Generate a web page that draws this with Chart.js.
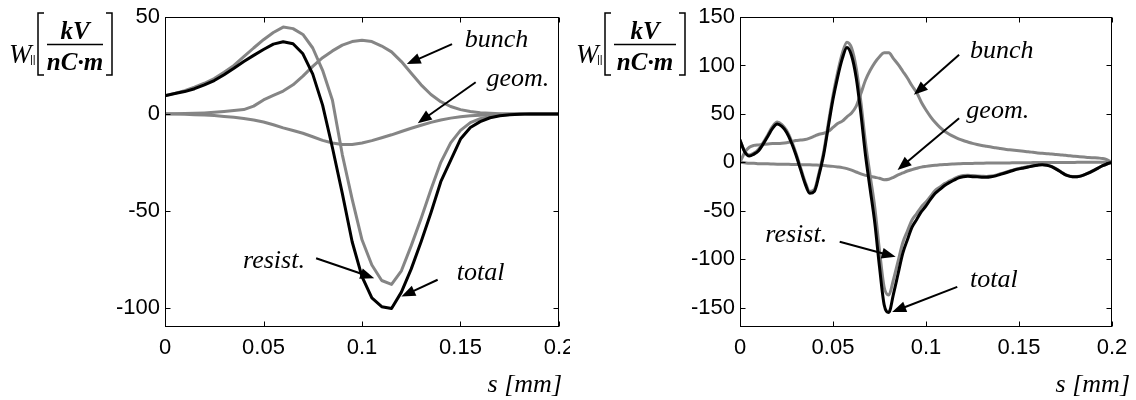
<!DOCTYPE html>
<html>
<head>
<meta charset="utf-8">
<script src="https://cdn.jsdelivr.net/npm/chart.js@4"></script>
<style>
  html, body { margin: 0; padding: 0; background: #fff; }
  #wrap { position: relative; width: 1136px; height: 400px; }
  .panel { position: absolute; top: 0; height: 400px; }
</style>
</head>
<body>
<div id="wrap">
  <div class="panel" style="left:0;width:570px"><canvas id="left"></canvas></div>
  <div class="panel" style="left:570px;width:566px"><canvas id="right"></canvas></div>
</div>
<script>
// ---- data ----
const xTicks = [0, 0.05, 0.1, 0.15, 0.2];
const xTickLabels = ['0', '0.05', '0.1', '0.15', '0.2'];

// left panel
const leftS = [0, 0.005, 0.01, 0.015, 0.02, 0.025, 0.03, 0.035, 0.04, 0.045, 0.05, 0.055, 0.06, 0.065, 0.07, 0.075, 0.08, 0.085, 0.09, 0.095,
  0.1, 0.105, 0.11, 0.115, 0.12, 0.125, 0.13, 0.135, 0.14, 0.145, 0.15, 0.155, 0.16, 0.165, 0.17, 0.175, 0.18, 0.185, 0.19, 0.195, 0.2];
const leftTotal = [9.4, 10.5, 11.5, 13, 15, 17.2, 20.2, 23.5, 27, 30.2, 33.2, 36, 37.2, 36.2, 31, 20.5, 4.5, -17.5, -41, -66,
  -84, -95, -99.5, -100.5, -92, -80, -66, -51, -35, -24, -13, -7, -4, -2, -1, -0.5, -0.2, 0, 0, 0, 0];
const leftResist = [9.4, 10.6, 12, 13.8, 15.8, 18.2, 21.5, 25, 29.5, 34, 38.3, 42, 44.8, 44, 41, 34, 22.5, 7, -21, -44,
  -65, -78, -86, -88, -81, -68, -54, -39, -25, -15, -8.5, -4.5, -2.5, -1.4, -0.7, -0.3, 0, 0, 0, 0, 0];
const leftBunch = [0, 0.1, 0.2, 0.3, 0.5, 0.8, 1.2, 1.7, 2.2, 4, 7.2, 9.5, 11.8, 15, 19.5, 24.5, 29, 32.5, 35.5, 37.3,
  38, 37.3, 35, 32, 27, 21, 15, 10, 6.3, 3.8, 2.2, 1.2, 0.6, 0.3, 0.1, 0, 0, 0, 0, 0, 0];
const leftGeom = [0, -0.1, -0.2, -0.4, -0.6, -0.9, -1.3, -1.8, -2.4, -3.2, -4.2, -5.6, -7.2, -8.6, -10, -11.8, -13.7, -15, -15.8, -15.8,
  -15, -13.8, -12.3, -10.8, -9.1, -7.4, -5.9, -4.4, -3.2, -2.2, -1.5, -1, -0.7, -0.4, -0.2, -0.1, 0, 0, 0, 0, 0];
const leftYTicks = [-100, -50, 0, 50];

// right panel
const rightS = [0, 0.0025, 0.005, 0.0075, 0.01, 0.0125, 0.015, 0.0175, 0.02, 0.0225, 0.025, 0.0275, 0.03, 0.0325, 0.035, 0.0375,
  0.04, 0.0425, 0.045, 0.0475, 0.05, 0.0525, 0.055, 0.0575, 0.06, 0.0625, 0.065, 0.0675, 0.07, 0.0725, 0.075, 0.0775,
  0.08, 0.0825, 0.085, 0.0875, 0.09, 0.0925, 0.095, 0.0975, 0.1, 0.1025, 0.105, 0.1075, 0.11, 0.1125, 0.115, 0.1175,
  0.12, 0.1225, 0.125, 0.1275, 0.13, 0.1325, 0.135, 0.1375, 0.14, 0.1425, 0.145, 0.1475, 0.15, 0.1525, 0.155, 0.1575,
  0.16, 0.1625, 0.165, 0.1675, 0.17, 0.1725, 0.175, 0.1775, 0.18, 0.1825, 0.185, 0.1875, 0.19, 0.1925, 0.195, 0.1975, 0.2];
const rightTotal = [23, 11, 6.5, 8.5, 12, 19, 27, 35, 39.5, 37, 31, 21, 8, -7, -22, -32,
  -30, -13, 8, 37, 65, 88, 107, 118.5, 110, 87, 50, 7, -28, -63, -108, -147,
  -155, -136, -115, -94, -80, -67, -59, -51, -45, -38, -32, -28, -24, -21, -18.5, -16,
  -14.8, -14.5, -14.8, -15, -15.3, -15.5, -15, -14, -12.5, -11, -9.5, -8, -6.8, -5.8, -4.8, -3.8,
  -3, -2.5, -3, -4.5, -7, -10, -13, -14.5, -15, -14.5, -13, -11, -8.5, -6, -3.5, -1.5, 0];
const rightResist = [23, 11.5, 7.5, 9.5, 13.5, 20.5, 28.5, 37, 41.5, 39, 33, 23, 10, -5, -20, -30,
  -28, -10.5, 11, 40.5, 69, 93, 112.5, 124, 118, 97, 62, 20, -14, -47, -91, -129,
  -137, -121, -102, -83, -71, -59.5, -53, -46, -41, -35, -29, -25.5, -22, -19.5, -17, -14.8,
  -13.5, -13.3, -13.7, -14, -14.3, -14.6, -14.2, -13.3, -11.8, -10.4, -9, -7.5, -6.3, -5.3, -4.4, -3.4,
  -2.7, -2.2, -2.8, -4.3, -6.8, -9.8, -12.8, -14.4, -14.9, -14.4, -12.9, -10.9, -8.5, -6, -3.5, -1.5, 0];
const rightBunch = [0, 10, 15.5, 17.5, 18, 18.5, 19, 19.3, 19.5, 19.8, 20.3, 21.2, 22.5, 23, 23.5, 25,
  27, 29, 30, 32, 36, 40, 42.5, 47, 51, 58, 71, 85, 95, 103, 109, 113,
  113, 107, 101, 94, 87, 79, 72, 62, 54, 47, 41, 36, 32, 29, 26.5, 24.3,
  22.5, 21, 19.5, 18.3, 17.3, 16.5, 15.7, 15, 14.2, 13.4, 12.9, 12.4, 11.9, 11.4, 10.9, 10.3,
  9.7, 9.3, 8.9, 8.5, 8, 7.6, 7.2, 6.7, 6.2, 5.8, 5.4, 5, 4.7, 4.4, 4, 2.5, 0];
const rightGeom = [0, -0.5, -1, -1, -1.5, -1.5, -1.5, -1.8, -2, -2, -2, -2.2, -2.2, -2.4, -2.5, -2.6,
  -2.8, -3, -3.2, -3.8, -4.2, -4.8, -5.5, -6.5, -8, -10, -12, -13.5, -14.5, -15.5, -16.5, -18,
  -17.5, -15.5, -13, -11, -9, -7.5, -6.2, -5, -4.2, -3.5, -3, -2.6, -2.2, -1.9, -1.7, -1.5,
  -1.3, -1.2, -1.1, -1, -0.9, -0.8, -0.8, -0.7, -0.7, -0.6, -0.6, -0.5, -0.5, -0.4, -0.4, -0.3,
  -0.3, -0.3, -0.2, -0.2, -0.2, -0.1, -0.1, -0.1, -0.1, 0, 0, 0, 0, 0, 0, 0, 0];
const rightYTicks = [-150, -100, -50, 0, 50, 100, 150];

// labels with arrows, in data coordinates: text spot, arrow tail, arrow head
const leftNotes = [
  { text: 'bunch', at: [0.1522, 34.3], from: [0.1457, 36], to: [0.1227, 25.7] },
  { text: 'geom.', at: [0.1632, 14.6], from: [0.1577, 16.3], to: [0.1283, -4.8] },
  { text: 'resist.', at: [0.0396, -79.6], from: [0.0767, -74.5], to: [0.1062, -84.8] },
  { text: 'total', at: [0.1481, -85.6], from: [0.1384, -85.6], to: [0.12, -94.3] }
];
const rightNotes = [
  { text: 'bunch', at: [0.1237, 107.6], from: [0.1178, 111], to: [0.0935, 69.7] },
  { text: 'geom.', at: [0.1217, 45.5], from: [0.1178, 45.5], to: [0.0847, -7.9] },
  { text: 'resist.', at: [0.0136, -82], from: [0.0536, -82], to: [0.0837, -97.6] },
  { text: 'total', at: [0.1237, -128.6], from: [0.1168, -128.6], to: [0.0818, -154.5] }
];

const GRAY = '#858585';
const SANS = "'Liberation Sans', Arial, sans-serif";
const SERIF = "'Liberation Serif', 'Times New Roman', serif";

function pts(xs, ys) {
  return xs.map((x, i) => ({ x: x, y: ys[i] }));
}

function arrow(ctx, x1, y1, x2, y2) {
  const ang = Math.atan2(y2 - y1, x2 - x1);
  const len = 14, half = 5.5;
  ctx.beginPath();
  ctx.moveTo(x1, y1);
  ctx.lineTo(x2 - Math.cos(ang) * len * 0.8, y2 - Math.sin(ang) * len * 0.8);
  ctx.stroke();
  ctx.beginPath();
  ctx.moveTo(x2, y2);
  ctx.lineTo(x2 - Math.cos(ang) * len - Math.sin(ang) * half, y2 - Math.sin(ang) * len + Math.cos(ang) * half);
  ctx.lineTo(x2 - Math.cos(ang) * len + Math.sin(ang) * half, y2 - Math.sin(ang) * len - Math.cos(ang) * half);
  ctx.closePath();
  ctx.fill();
}

// box, inward ticks, labels and axis titles
const decor = {
  id: 'decor',
  afterDraw(chart, args, opts) {
    const ctx = chart.ctx, a = chart.chartArea;
    const xs = chart.scales.x, ys = chart.scales.y;
    const L = Math.round(a.left) + 0.5, R = Math.round(a.right) - 0.5;
    const T = Math.round(a.top) + 0.5, B = Math.round(a.bottom) - 0.5;
    ctx.save();
    ctx.strokeStyle = '#000';
    ctx.fillStyle = '#000';
    ctx.lineWidth = 1;
    ctx.strokeRect(L, T, R - L, B - T);
    const tl = 5;
    ctx.beginPath();
    xs.ticks.forEach(t => {
      const px = Math.round(xs.getPixelForValue(t.value)) + 0.5;
      ctx.moveTo(px, B); ctx.lineTo(px, B - tl);
      ctx.moveTo(px, T); ctx.lineTo(px, T + tl);
    });
    ys.ticks.forEach(t => {
      const py = Math.round(ys.getPixelForValue(t.value)) + 0.5;
      ctx.moveTo(L, py); ctx.lineTo(L + tl, py);
      ctx.moveTo(R, py); ctx.lineTo(R - tl, py);
    });
    ctx.stroke();

    // curve labels
    ctx.font = 'italic 26px ' + SERIF;
    ctx.textAlign = 'left';
    ctx.textBaseline = 'alphabetic';
    ctx.lineWidth = 2;
    opts.notes.forEach(n => {
      ctx.fillText(n.text, xs.getPixelForValue(n.at[0]), ys.getPixelForValue(n.at[1]));
      arrow(ctx, xs.getPixelForValue(n.from[0]), ys.getPixelForValue(n.from[1]),
        xs.getPixelForValue(n.to[0]), ys.getPixelForValue(n.to[1]));
    });

    // x axis title
    ctx.font = 'italic 26px ' + SERIF;
    ctx.textAlign = 'right';
    ctx.fillText('s [mm]', opts.sRight, 392);

    // y axis title: W|| [ kV / nC·m ]
    const ox = opts.titleX, w = opts.titleW;
    const mid = ox + 44 + w / 2;
    ctx.textAlign = 'left';
    ctx.font = 'italic 27px ' + SERIF;
    ctx.fillText('W', ox + 9, 63);
    ctx.font = '11px ' + SANS;
    ctx.fillText('||', ox + 30, 63);
    ctx.textAlign = 'center';
    ctx.font = 'bold italic 25px ' + SERIF;
    ctx.fillText('kV', mid, 39);
    ctx.fillText('nC\u00b7m', mid, 70);
    ctx.lineWidth = 1.5;
    ctx.beginPath();
    ctx.moveTo(ox + 47, 44.5); ctx.lineTo(ox + 41 + w, 44.5);
    // brackets
    ctx.moveTo(ox + 44, 13); ctx.lineTo(ox + 38, 13); ctx.lineTo(ox + 38, 75); ctx.lineTo(ox + 44, 75);
    ctx.moveTo(ox + 44 + w, 13); ctx.lineTo(ox + 50 + w, 13); ctx.lineTo(ox + 50 + w, 75); ctx.lineTo(ox + 44 + w, 75);
    ctx.stroke();
    ctx.restore();
  }
};

function makeChart(id, p) {
  const ctx = document.getElementById(id).getContext('2d');
  return new Chart(ctx, {
    type: 'line',
    data: {
      datasets: [
        { label: 'total', data: pts(p.s, p.total), borderColor: '#000', borderWidth: 3 },
        { label: 'resist.', data: pts(p.s, p.resist), borderColor: GRAY, borderWidth: 3 },
        { label: 'bunch', data: pts(p.s, p.bunch), borderColor: GRAY, borderWidth: 3 },
        { label: 'geom.', data: pts(p.s, p.geom), borderColor: GRAY, borderWidth: 3 }
      ]
    },
    options: {
      responsive: true,
      maintainAspectRatio: false,
      animation: false,
      elements: {
        point: { radius: 0 },
        line: { tension: 0, cubicInterpolationMode: p.mode, borderJoinStyle: 'round', borderCapStyle: 'round' }
      },
      layout: { padding: { top: 17, right: p.padRight, left: 0, bottom: 0 } },
      scales: {
        x: {
          type: 'linear',
          min: 0,
          max: 0.2,
          grid: { display: false, drawTicks: false },
          border: { display: false },
          afterBuildTicks: s => { s.ticks = xTicks.map(v => ({ value: v })); },
          ticks: {
            padding: 8,
            color: '#000',
            font: { family: SANS, size: 22 },
            maxRotation: 0,
            callback: (v) => xTickLabels[xTicks.indexOf(v)]
          },
          afterFit: s => { s.height = 73; s.paddingLeft = 0; s.paddingRight = 0; }
        },
        y: {
          min: p.yMin,
          max: p.yMax,
          grid: { display: false, drawTicks: false },
          border: { display: false },
          afterBuildTicks: s => { s.ticks = p.yTicks.map(v => ({ value: v })); },
          ticks: {
            padding: 5,
            color: '#000',
            font: { family: SANS, size: 22 },
            callback: v => String(v)
          },
          afterFit: s => { s.width = p.axisWidth; s.paddingTop = 0; s.paddingBottom = 0; }
        }
      },
      plugins: {
        legend: { display: false },
        tooltip: { enabled: false },
        decor: { notes: p.notes, sRight: p.sRight, titleX: p.titleX, titleW: p.titleW }
      }
    },
    plugins: [decor]
  });
}

makeChart('left', {
  s: leftS, total: leftTotal, resist: leftResist, bunch: leftBunch, geom: leftGeom,
  yMin: -110, yMax: 50, yTicks: leftYTicks, notes: leftNotes,
  axisWidth: 165, padRight: 11, sRight: 562, titleX: 0, titleW: 62, mode: 'default'
});
makeChart('right', {
  s: rightS, total: rightTotal, resist: rightResist, bunch: rightBunch, geom: rightGeom,
  yMin: -170, yMax: 150, yTicks: rightYTicks, notes: rightNotes,
  axisWidth: 170, padRight: 24, sRight: 560, titleX: -3, titleW: 68, mode: 'monotone'
});
</script>
</body>
</html>
